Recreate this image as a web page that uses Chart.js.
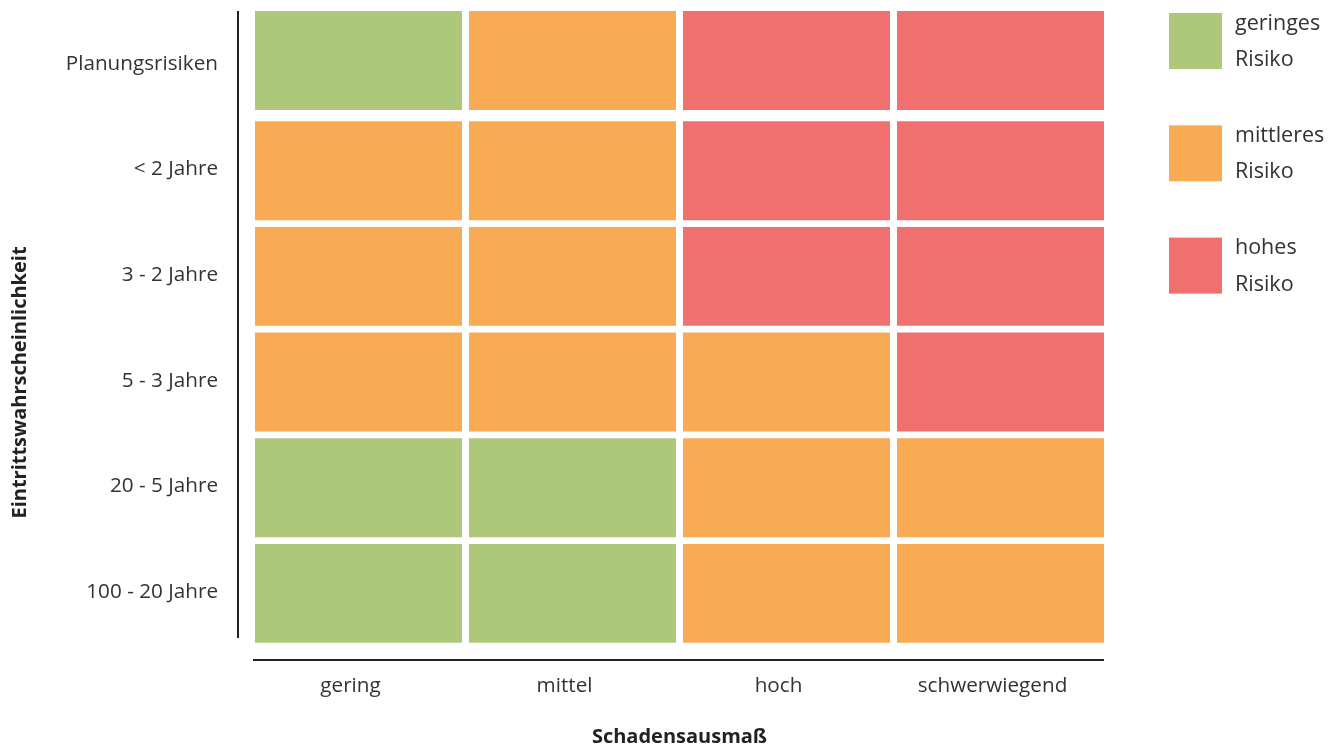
<!DOCTYPE html>
<html>
<head>
<meta charset="utf-8">
<script src="https://cdn.jsdelivr.net/npm/chart.js@4"></script>
<style>
  html, body { margin: 0; padding: 0; background: #ffffff; }
  #wrap { position: relative; width: 1335px; height: 749px; }
</style>
</head>
<body>
<div id="wrap"><canvas id="c"></canvas></div>
<script>
// ---- data ----
const columns = ['gering', 'mittel', 'hoch', 'schwerwiegend'];
// rows listed top to bottom
const rows = ['Planungsrisiken', '< 2 Jahre', '3 - 2 Jahre', '5 - 3 Jahre', '20 - 5 Jahre', '100 - 20 Jahre'];
// risk level per cell (1 = geringes, 2 = mittleres, 3 = hohes), rows top to bottom
const riskPlanung = [1, 2, 3, 3];
const riskUnter2 = [2, 2, 3, 3];
const risk3bis2 = [2, 2, 3, 3];
const risk5bis3 = [2, 2, 2, 3];
const risk20bis5 = [1, 1, 2, 2];
const risk100bis20 = [1, 1, 2, 2];
const riskGrid = [riskPlanung, riskUnter2, risk3bis2, risk5bis3, risk20bis5, risk100bis20];
const riskNames = [['geringes', 'Risiko'], ['mittleres', 'Risiko'], ['hohes', 'Risiko']];
const riskColors = ['#ADC77B', '#F9AA54', '#F07070'];
const xTitle = 'Schadensausmaß';
const yTitle = 'Eintrittswahrscheinlichkeit';

const FONT = "'Open Sans', 'Noto Sans', sans-serif";
const TEXT = '#333333';

// one stacked dataset per row, bottom row first
const datasets = rows.map((_, d) => {
  const r = rows.length - 1 - d;
  const isTop = r === 0;
  return {
    label: rows[r],
    data: columns.map(() => 1),
    backgroundColor: riskGrid[r].map(v => riskColors[v - 1]),
    borderColor: '#ffffff',
    borderWidth: isTop ? {top: 0, bottom: 6.7, left: 3.5, right: 3.5}
                       : {top: 4.6, bottom: 2.2, left: 3.5, right: 3.5},
    borderSkipped: false,
    inflateAmount: 0,
    categoryPercentage: 1,
    barPercentage: 1
  };
});

const decor = {
  id: 'decor',
  afterDraw(chart) {
    const {ctx, chartArea: a} = chart;
    ctx.save();
    ctx.strokeStyle = '#222222';
    ctx.lineWidth = 2;
    ctx.beginPath();
    ctx.moveTo(a.left - 13.5, a.top);
    ctx.lineTo(a.left - 13.5, a.bottom - 7);
    ctx.stroke();
    ctx.beginPath();
    ctx.moveTo(a.left + 1.5, a.bottom + 15);
    ctx.lineTo(a.right - 3.5, a.bottom + 15);
    ctx.stroke();

    // y axis title
    ctx.save();
    ctx.translate(20, chart.height / 2 + 8);
    ctx.rotate(-Math.PI / 2);
    ctx.font = "bold 20px " + FONT;
    ctx.fillStyle = '#222222';
    ctx.textAlign = 'center';
    ctx.textBaseline = 'middle';
    ctx.fillText(yTitle, 0, 0);
    ctx.restore();

    // legend
    const bx = a.right + 61.5;
    ctx.font = "21.5px " + FONT;
    ctx.textAlign = 'left';
    ctx.textBaseline = 'middle';
    riskNames.forEach((lines, i) => {
      const top = a.top + 2 + i * 112.3;
      ctx.fillStyle = riskColors[i];
      ctx.fillRect(bx, top, 53, 56);
      ctx.fillStyle = TEXT;
      lines.forEach((t, j) => ctx.fillText(t, bx + 66, top + 10.5 + j * 36.5));
    });
    ctx.restore();
  }
};

new Chart(document.getElementById('c'), {
  type: 'bar',
  data: { labels: columns, datasets },
  plugins: [decor],
  options: {
    responsive: true,
    maintainAspectRatio: false,
    animation: false,
    layout: { padding: { top: 11, left: 67, right: 227.5, bottom: 0 } },
    plugins: { legend: { display: false }, tooltip: { enabled: false } },
    scales: {
      x: {
        stacked: true,
        grid: { display: false, drawTicks: false },
        border: { display: false },
        ticks: { font: { family: FONT, size: 20.7 }, color: TEXT, padding: 29, maxRotation: 0, labelOffset: -8 },
        title: { display: true, text: xTitle, font: { family: FONT, size: 20, weight: 'bold' }, color: '#222222', padding: { top: 0, bottom: 0 } },
        afterFit(scale) { scale.height = 104; scale.paddingLeft = 0; scale.paddingRight = 0; }
      },
      y: {
        type: 'linear',
        stacked: true,
        min: 0,
        max: rows.length,
        grid: { display: false, drawTicks: false },
        border: { display: false },
        afterBuildTicks(scale) { scale.ticks = rows.map((_, i) => ({ value: i + 0.5 })); },
        ticks: {
          autoSkip: false,
          font: { family: FONT, size: 20.7 },
          color: TEXT,
          padding: 33.5,
          callback: (v) => rows[rows.length - 1 - Math.floor(v)]
        },
        afterFit(scale) { scale.width = 184.5; scale.paddingTop = 0; scale.paddingBottom = 0; }
      }
    }
  }
});
</script>
</body>
</html>
